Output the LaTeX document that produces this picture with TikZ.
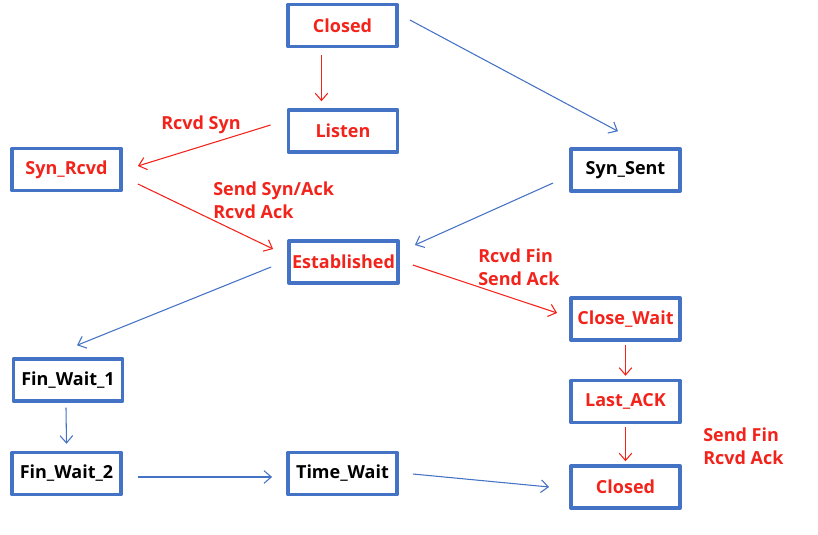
\documentclass[tikz,border=0pt]{standalone}
\usepackage{fontspec}
\setmainfont{Open Sans}
\usetikzlibrary{arrows.meta,calc}
\definecolor{boxblue}{HTML}{4472C4}
\definecolor{txtred}{HTML}{F2231B}
\tikzset{
  every picture/.style={font=\fontsize{13.5}{17}\selectfont\bfseries, line join=round, >={Straight Barb[length=5.5pt,width=9.5pt]}},
  statebox/.style={draw=boxblue, line width=2.6pt, minimum width=82pt, minimum height=31.5pt, inner sep=0pt},
  redbox/.style={statebox, text=txtred},
  redline/.style={->, txtred, line width=0.8pt},
  blueline/.style={->, boxblue, line width=0.8pt},
  lbl/.style={text=txtred, align=left, anchor=west, inner sep=0pt},
}

\begin{document}
\begin{tikzpicture}[x=0.75pt,y=-0.75pt]
\useasboundingbox (0,0) rectangle (818,535);
% states
\node[redbox] (closed1) at (342.5,25.5) {Closed};
\node[redbox] (listen) at (343,131) {Listen};
\node[redbox] (synrcvd) at (66.5,169.5) {Syn\_Rcvd};
\node[statebox] (synsent) at (625.5,170) {Syn\_Sent};
\node[redbox] (estab) at (343.5,262) {Established};
\node[redbox] (closewait) at (625.5,319) {Close\_Wait};
\node[statebox] (finwait1) at (68,380) {Fin\_Wait\_1};
\node[redbox] (lastack) at (625.5,401.5) {Last\_ACK};
\node[statebox] (finwait2) at (66.5,473.5) {Fin\_Wait\_2};
\node[statebox] (timewait) at (342.5,473.5) {Time\_Wait};
\node[redbox] (closed2) at (625.5,487) {Closed};
% transitions
\draw[redline] ($(closed1.south)+(-21,7)$) -- ($(listen.north)+(-21.5,-7)$);
\draw[blueline] ($(closed1.east)+(11,-5.5)$) -- ($(synsent.north)+(-7.5,-16)$);
\draw[redline] ($(listen.west)+(-16,-6)$) -- ($(synrcvd.east)+(15,-3.5)$);
\draw[redline] ($(synrcvd.east)+(15,14.5)$) -- ($(estab.west)+(-14,-13)$);
\draw[blueline] ($(synsent.west)+(-16,13)$) -- ($(estab.east)+(15,-17)$);
\draw[redline] ($(estab.east)+(13,3)$) -- ($(closewait.west)+(-12,-6)$);
\draw[blueline] ($(estab.west)+(-16,5)$) -- ($(finwait1.north)+(9,-12)$);
\draw[redline] ($(closewait.south)+(0,3)$) -- ($(lastack.north)+(0,-3)$);
\draw[blueline] ($(finwait1.south)+(-2,5)$) -- ($(finwait2.north)+(0,-7)$);
\draw[redline] ($(lastack.south)+(0,3)$) -- ($(closed2.north)+(0,-3)$);
\draw[blueline] ($(finwait2.east)+(15,3.5)$) -- ($(timewait.west)+(-14,3.5)$);
\draw[blueline] ($(timewait.east)+(14,0.5)$) -- ($(closed2.west)+(-20,0)$);
% labels
\node[lbl] (l1) at (161,124.5) {Rcvd Syn};
\node[lbl] (l2) at (213,200) {Send Syn/Ack\\Rcvd Ack};
\node[lbl] (l3) at (478,267) {Rcvd Fin\\Send Ack};
\node[lbl] (l4) at (703,446) {Send Fin\\Rcvd Ack};
\end{tikzpicture}
\end{document}
